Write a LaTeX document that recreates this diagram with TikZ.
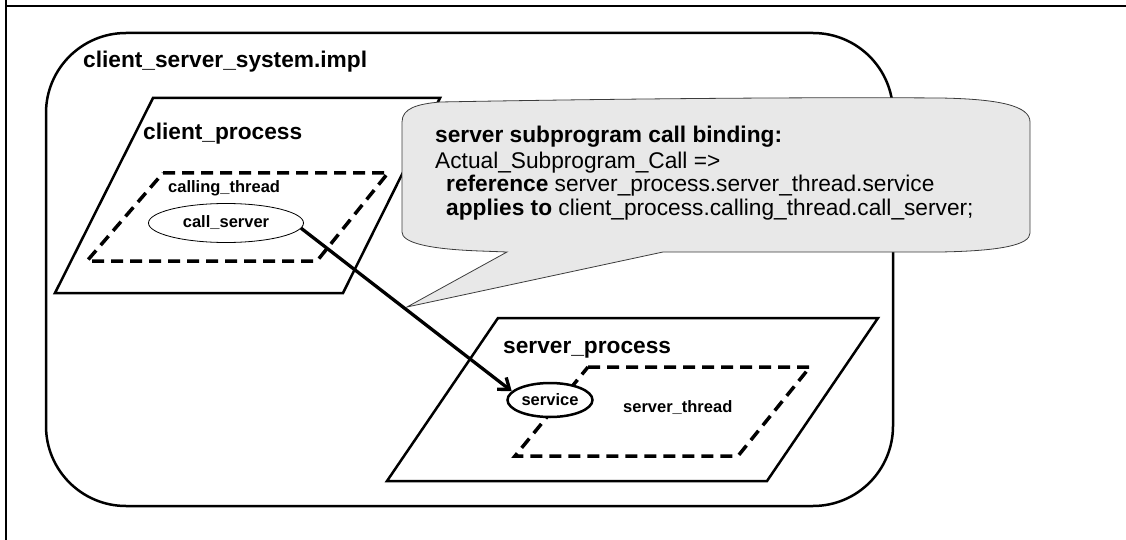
\documentclass[tikz,border=0pt]{standalone}
\usepackage{fontspec}
\setmainfont{Liberation Sans}
\usetikzlibrary{arrows.meta,shapes.geometric}
\definecolor{calloutfill}{RGB}{232,232,232}
\definecolor{calloutline}{RGB}{60,60,60}
\begin{document}
\begin{tikzpicture}[x=1pt,y=-1pt,
  frame/.style={line width=2pt},
  sysbox/.style={line width=2.5pt, rounded corners=80pt},
  proc/.style={line width=2.5pt},
  thr/.style={line width=3.5pt, dash pattern=on 12pt off 7pt},
  biglabel/.style={anchor=base west, inner sep=0pt, font=\fontsize{22.7}{24}\selectfont\bfseries},
  smalllabel/.style={anchor=base west, inner sep=0pt, font=\fontsize{16.5}{18}\selectfont\bfseries},
  subprog/.style={ellipse, draw, fill=white, inner sep=0pt, font=\fontsize{16.5}{18}\selectfont\bfseries},
  callout/.style={fill=calloutfill, draw=calloutline, line width=0.8pt},
  calltext/.style={anchor=base west, inner sep=0pt, font=\fontsize{22.7}{24}\selectfont},
  callarrow/.style={line width=3.3pt, -{Straight Barb[length=10pt,width=15pt]}}
]
\useasboundingbox (0,0) rectangle (1126,540);
\draw[frame] (6,0) -- (6,540);
\draw[frame] (6,6) -- (1126,6);
\draw[sysbox] (46,33) rectangle (893,506);
\node[biglabel] (sysname) at (83,68) {client\_server\_system.impl};

\draw[proc] (153,98) -- (440,98) -- (343,293) -- (55,293) -- cycle;
\node[biglabel] (clientname) at (143,140) {client\_process};
\draw[thr] (163,173) -- (388,173) -- (317,261) -- (87,261) -- cycle;
\node[smalllabel] (threadname) at (168,193) {calling\_thread};
\node[subprog, line width=0.8pt, minimum width=155pt, minimum height=39pt] (call) at (226,223) {call\_server};

\draw[proc] (498,318) -- (878,318) -- (767,481) -- (387,481) -- cycle;
\node[biglabel] (servername) at (503,353) {server\_process};
\draw[thr] (588,367) -- (810,367) -- (738,456) -- (515,456) -- cycle;
\node[smalllabel] (sthreadname) at (623,412) {server\_thread};
\node[subprog, line width=2.5pt, minimum width=85pt, minimum height=34pt] (service) at (550,400) {service};

\draw[callout] (402,122) .. controls (402,108) and (418,104) .. (440,102)
  .. controls (600,99) and (800,97) .. (940,98)
  .. controls (1000,99) and (1030,106) .. (1030,122) -- (1030,233)
  .. controls (1030,245) and (1000,251) .. (940,252) -- (663,252) -- (407,307) -- (507,252) -- (480,251)
  .. controls (425,249) and (402,242) .. (402,232) -- cycle;
\node[calltext, font=\fontsize{22.7}{24}\selectfont\bfseries] (cl1) at (435,143) {server subprogram call binding:};
\node[calltext] (cl2) at (435,168) {Actual\_Subprogram\_Call =>};
\node[calltext] (cl3) at (446,192) {\textbf{reference} server\_process.server\_thread.service};
\node[calltext] (cl4) at (446,215) {\textbf{applies to} client\_process.calling\_thread.call\_server;};

\draw[callarrow] (call.-4) -- (service.167);
\end{tikzpicture}
\end{document}
